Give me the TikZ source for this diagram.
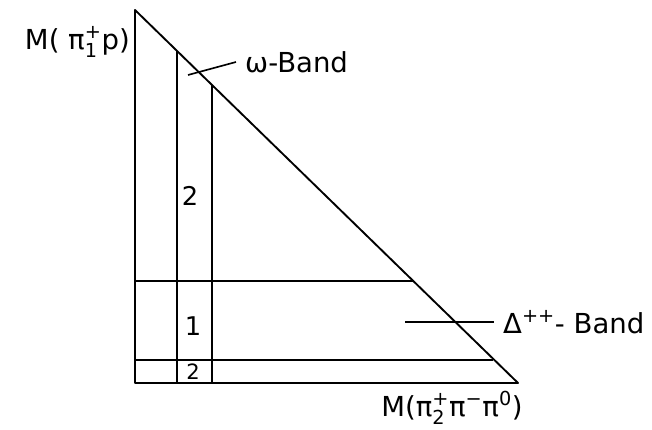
\documentclass[tikz,border=0pt]{standalone}
\usepackage{amsmath}
\usepackage{fontspec}
\setmainfont{DejaVu Sans}
\usetikzlibrary{calc}
\newcommand{\supsub}[2]{\ensuremath{^{\text{#1}}_{\text{#2}}}}
\newcommand{\supr}[1]{\ensuremath{^{\text{#1}}}}
\tikzstyle{axis} = [line width=1.6pt, line cap=round, line join=round]
\tikzstyle{band} = [line width=1.4pt]
\tikzstyle{lbl} = [font=\fontsize{23.5}{28}\selectfont, inner sep=0pt]
\tikzstyle{num} = [font=\fontsize{22}{26}\selectfont, inner sep=0pt]

\begin{document}
\begin{tikzpicture}[x=0.03cm, y=-0.03cm]
\useasboundingbox (0,0) rectangle (652,430);

% triangle
\coordinate (top) at (135,10);
\coordinate (origin) at (135,383);
\coordinate (corner) at (518,383);
\draw [axis] (top) -- (origin) -- (corner) -- cycle;

% omega band (vertical)
\coordinate (om1t) at (177,51);
\coordinate (om1b) at (177,383);
\coordinate (om2t) at (212,85);
\coordinate (om2b) at (212,383);
\draw [band] (om1t) -- (om1b);
\draw [band] (om2t) -- (om2b);

% delta band (horizontal)
\coordinate (de1l) at (135,281);
\coordinate (de1r) at (413,281);
\coordinate (de2l) at (135,360);
\coordinate (de2r) at (493,360);
\draw [band] (de1l) -- (de1r);
\draw [band] (de2l) -- (de2r);

% region numbers
\node (reg2a) [num] at (190,196) {2};
\node (reg1) [num] at (193,326) {1};
\node (reg2b) [num, font=\fontsize{18}{22}\selectfont] at (193,372) {2};

% labels
\node (ylabel) [lbl, anchor=east] at (130,42) {M( π\supsub{+}{1}p)};
\node (xlabel) [lbl] at (452,408) {M(π\supsub{+}{2}π\supr{−}π\supr{0})};
\node (omega) [lbl, anchor=west] at (245,62) {ω-Band};
\node (delta) [lbl, anchor=west] at (503,322) {Δ\supr{++}- Band};

% leaders
\coordinate (omtip) at (188,75);
\coordinate (detip) at (405,322);
\draw [band] (omtip) -- ($(omega.west)+(-9,0)$);
\draw [band] (detip) -- ($(delta.west)+(-9,0)$);

\end{tikzpicture}
\end{document}
